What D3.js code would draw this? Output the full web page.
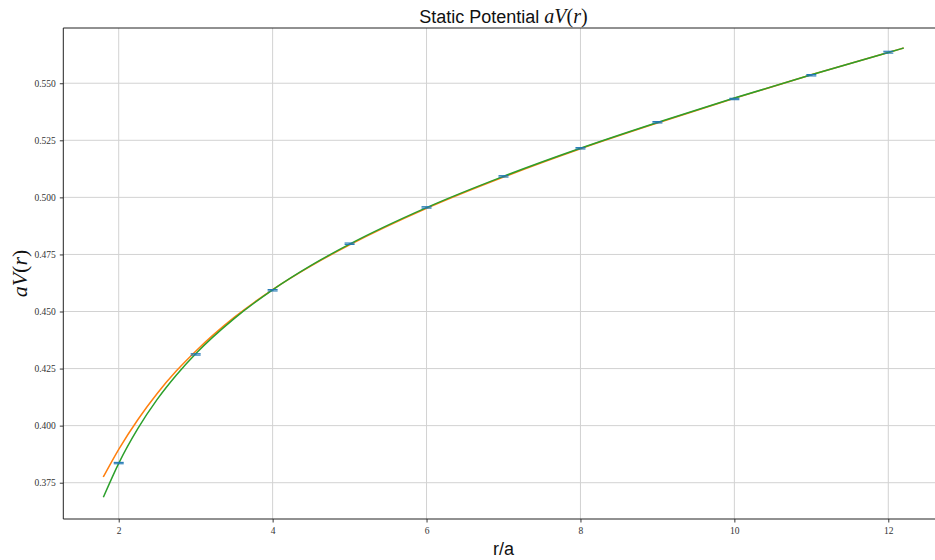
<!DOCTYPE html>
<html>
<head>
<meta charset="utf-8">
<script src="https://cdn.jsdelivr.net/npm/d3@7"></script>
<style>
  html, body { margin: 0; padding: 0; background: #ffffff; }
  svg { display: block; }
</style>
</head>
<body>
<svg id="chart" width="935" height="560"></svg>
<script>
// Measured static potential aV(r) with statistical errors
const rValues   = [2, 3, 4, 5, 6, 7, 8, 9, 10, 11, 12];
const potential = [0.3836, 0.4312, 0.4593, 0.4797, 0.4956, 0.5092, 0.5215, 0.5329, 0.5431, 0.5535, 0.5636];
const potErr    = [0.0003, 0.0003, 0.0003, 0.0003, 0.0003, 0.0003, 0.0003, 0.0003, 0.0003, 0.0003, 0.0004];

// Fit curves, tabulated on a grid of r
const fitR      = [1.8, 2.0, 2.25, 2.5, 2.75, 3.0, 3.5, 4.0, 4.5, 5.0, 6.0, 7.0, 8.0, 9.0, 10.0, 11.0, 12.0, 12.2];
const fitOrange = [0.3775, 0.3896, 0.4027, 0.4141, 0.4240, 0.4326, 0.4474, 0.4596, 0.4700, 0.4792, 0.4952, 0.5089, 0.5213, 0.5326, 0.5434, 0.5537, 0.5635, 0.5654];
const fitGreen  = [0.3686, 0.3835, 0.3988, 0.4115, 0.4222, 0.4315, 0.4469, 0.4595, 0.4702, 0.4795, 0.4955, 0.5092, 0.5215, 0.5328, 0.5435, 0.5537, 0.5635, 0.5654];

const xTicks = [2, 4, 6, 8, 10, 12];
const yTicks = [0.375, 0.400, 0.425, 0.450, 0.475, 0.500, 0.525, 0.550];

const svg = d3.select("#chart");
const plotLeft = 63.3, plotRight = 943.7, plotTop = 28, plotBottom = 519;

const x = d3.scaleLinear().domain([1.28, 12.72]).range([plotLeft, plotRight]);
const y = d3.scaleLinear().domain([0.3591, 0.5742]).range([plotBottom, plotTop]);

const serif = "'Liberation Serif', 'DejaVu Serif', serif";
const sans = "'Liberation Sans', 'DejaVu Sans', sans-serif";

// Grid
const grid = svg.append("g").attr("stroke", "#d2d2d2").attr("stroke-width", 1);
xTicks.forEach(t => grid.append("line")
  .attr("x1", x(t)).attr("x2", x(t)).attr("y1", plotTop).attr("y2", plotBottom));
yTicks.forEach(t => grid.append("line")
  .attr("x1", plotLeft).attr("x2", plotRight).attr("y1", y(t)).attr("y2", y(t)));

// Axes
const xAxis = d3.axisBottom(x).tickValues(xTicks).tickFormat(d3.format("d"))
  .tickSizeInner(3.5).tickSizeOuter(0).tickPadding(5);
const yAxis = d3.axisLeft(y).tickValues(yTicks).tickFormat(d3.format(".3f"))
  .tickSizeInner(3.5).tickSizeOuter(0).tickPadding(4);

const gx = svg.append("g").attr("transform", `translate(0,${plotBottom})`).call(xAxis);
const gy = svg.append("g").attr("transform", `translate(${plotLeft},0)`).call(yAxis);
[gx, gy].forEach(g => {
  g.select(".domain").remove();
  g.selectAll(".tick line").attr("stroke", "#222").attr("stroke-width", 0.9);
  g.selectAll(".tick text").attr("fill", "#333").style("font-family", serif).style("font-size", "9.5px");
});

// Fit lines
const line = d3.line().curve(d3.curveMonotoneX);
svg.append("path")
  .attr("d", line(fitR.map((r, i) => [x(r), y(fitOrange[i])])))
  .attr("fill", "none").attr("stroke", "#ff7f0e").attr("stroke-width", 1.5);
svg.append("path")
  .attr("d", line(fitR.map((r, i) => [x(r), y(fitGreen[i])])))
  .attr("fill", "none").attr("stroke", "#2ca02c").attr("stroke-width", 1.5);

// Error bars with caps
const eb = svg.append("g").attr("stroke", "#1f77b4").attr("stroke-width", 1.1);
rValues.forEach((r, i) => {
  const cx = x(r), lo = y(potential[i] - potErr[i]), hi = y(potential[i] + potErr[i]);
  eb.append("line").attr("x1", cx).attr("x2", cx).attr("y1", lo - 1).attr("y2", hi + 1).attr("stroke-width", 2);
  eb.append("line").attr("x1", cx - 5).attr("x2", cx + 5).attr("y1", lo).attr("y2", lo);
  eb.append("line").attr("x1", cx - 5).attr("x2", cx + 5).attr("y1", hi).attr("y2", hi);
});

// Frame
const frame = svg.append("g").attr("stroke", "#222").attr("stroke-width", 1).attr("fill", "none");
frame.append("line").attr("x1", plotLeft).attr("x2", plotLeft).attr("y1", plotTop).attr("y2", plotBottom);
frame.append("line").attr("x1", plotLeft).attr("x2", plotRight).attr("y1", plotBottom).attr("y2", plotBottom);
frame.append("line").attr("x1", plotLeft).attr("x2", plotRight).attr("y1", plotTop).attr("y2", plotTop);
frame.append("line").attr("x1", plotRight).attr("x2", plotRight).attr("y1", plotTop).attr("y2", plotBottom);

// Title
const title = svg.append("text")
  .attr("x", (plotLeft + plotRight) / 2).attr("y", 23)
  .attr("text-anchor", "middle").attr("fill", "#111");
title.append("tspan").style("font-family", sans).style("font-size", "18px").text("Static Potential ");
title.append("tspan").style("font-family", serif).style("font-style", "italic").style("font-size", "20px").text("aV");
title.append("tspan").style("font-family", serif).style("font-size", "20px").text("(");
title.append("tspan").style("font-family", serif).style("font-style", "italic").style("font-size", "20px").text("r");
title.append("tspan").style("font-family", serif).style("font-size", "20px").text(")");

// Axis labels
svg.append("text")
  .attr("x", (plotLeft + plotRight) / 2).attr("y", 555)
  .attr("text-anchor", "middle").attr("fill", "#111")
  .style("font-family", sans).style("font-size", "18px").text("r/a");

const yl = svg.append("text")
  .attr("transform", `translate(27,${(plotTop + plotBottom) / 2}) rotate(-90)`)
  .attr("text-anchor", "middle").attr("fill", "#111");
yl.append("tspan").style("font-family", serif).style("font-style", "italic").style("font-size", "22px").text("aV");
yl.append("tspan").style("font-family", serif).style("font-size", "22px").text("(");
yl.append("tspan").style("font-family", serif).style("font-style", "italic").style("font-size", "22px").text("r");
yl.append("tspan").style("font-family", serif).style("font-size", "22px").text(")");
</script>
</body>
</html>
